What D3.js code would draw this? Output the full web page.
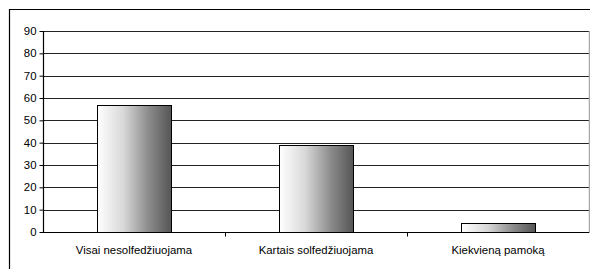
<!DOCTYPE html>
<html><head><meta charset="utf-8">
<script src="https://cdn.jsdelivr.net/npm/d3@7"></script>
<style>html,body{margin:0;padding:0;background:#fff;overflow:hidden}</style>
</head><body>
<svg id="c" width="590" height="269"></svg>
<script>
const categories = ["Visai nesolfedžiuojama", "Kartais solfedžiuojama", "Kiekvieną pamoką"];
const values = [57, 39, 4];
const yTicks = [0, 10, 20, 30, 40, 50, 60, 70, 80, 90];

const svg = d3.select("#c");
const m = {left: 43, right: 589, top: 31, bottom: 232};

// outer frame (runs off right and bottom edges)
svg.append("path").attr("d", "M9.5,275 V9.5 H600").attr("fill", "none").attr("stroke", "#000").attr("stroke-width", 1.2);

const xb = d3.scaleBand().domain(categories).range([m.left, m.right]);
const y = d3.scaleLinear().domain([0, 90]).range([m.bottom, m.top]);

const defs = svg.append("defs");
const g = defs.append("linearGradient").attr("id", "grad").attr("x1", "0").attr("x2", "1").attr("y1", "0").attr("y2", "0");
g.append("stop").attr("offset", "0").attr("stop-color", "#ffffff");
g.append("stop").attr("offset", "0.35").attr("stop-color", "#d8d8d8");
g.append("stop").attr("offset", "0.7").attr("stop-color", "#8a8a8a");
g.append("stop").attr("offset", "1").attr("stop-color", "#555555");

// gridlines
svg.append("g").selectAll("line").data(yTicks.filter(d => d > 0)).join("line")
  .attr("x1", m.left).attr("x2", m.right)
  .attr("y1", d => Math.round(y(d)) + 0.5).attr("y2", d => Math.round(y(d)) + 0.5)
  .attr("stroke", "#222").attr("stroke-width", 1.2);

// right plot border
svg.append("line").attr("x1", m.right + 0.5).attr("x2", m.right + 0.5).attr("y1", m.top).attr("y2", m.bottom + 1)
  .attr("stroke", "#aaa").attr("stroke-width", 1.5);

// bars
const bw = 74;
svg.append("g").selectAll("rect").data(values).join("rect")
  .attr("x", (d, i) => Math.round(xb(categories[i]) + xb.bandwidth() / 2 - bw / 2) + 0.5)
  .attr("width", bw)
  .attr("y", d => Math.round(y(d)) + 0.5)
  .attr("height", d => Math.round(y(0)) - Math.round(y(d)))
  .attr("fill", "url(#grad)").attr("stroke", "#000").attr("stroke-width", 1);

// y axis
const ya = svg.append("g").attr("transform", `translate(${m.left + 0.5},0)`)
  .call(d3.axisLeft(y).tickValues(yTicks).tickSize(4).tickPadding(3));
ya.select(".domain").attr("d", `M-0,${m.top}V${m.bottom}`).attr("stroke", "#000").attr("stroke-width", 1.2);
ya.selectAll(".tick line").attr("stroke", "#000");
ya.selectAll("text").attr("font-family", "Liberation Sans, Arial, sans-serif").attr("font-size", 11.4).attr("fill", "#000");

// x axis
const xa = svg.append("g").attr("transform", `translate(0,${Math.round(y(0)) + 0.5})`);
xa.append("line").attr("x1", m.left).attr("x2", m.right).attr("stroke", "#000").attr("stroke-width", 1.2);
xa.selectAll("line.t").data(categories.slice(1)).join("line").attr("class", "t")
  .attr("x1", d => Math.round(xb(d)) + 0.5).attr("x2", d => Math.round(xb(d)) + 0.5)
  .attr("y1", 0).attr("y2", 4).attr("stroke", "#000");
xa.selectAll("text").data(categories).join("text")
  .attr("x", d => xb(d) + xb.bandwidth() / 2).attr("y", 21)
  .attr("text-anchor", "middle").attr("font-family", "Liberation Sans, Arial, sans-serif")
  .attr("font-size", 11.4).attr("fill", "#000").text(d => d);
</script>
</body></html>
